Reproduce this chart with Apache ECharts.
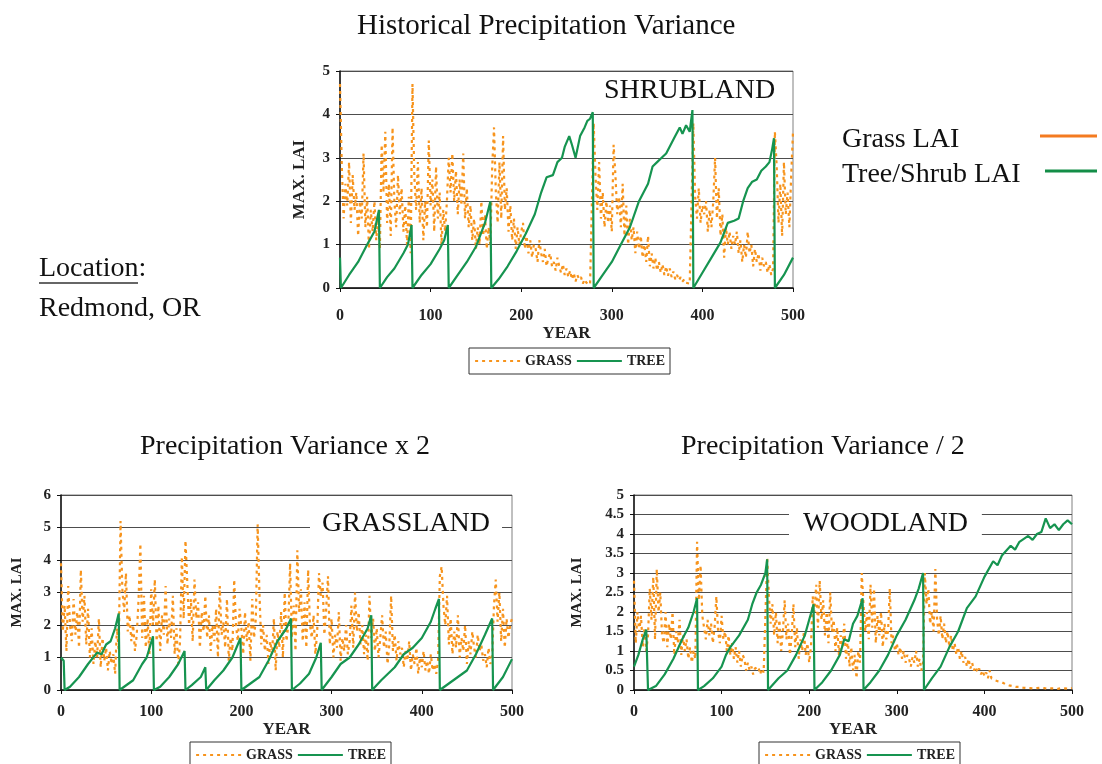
<!DOCTYPE html>
<html><head><meta charset="utf-8">
<script src="https://cdn.jsdelivr.net/npm/echarts@6/dist/echarts.min.js"></script>
<style>html,body{margin:0;padding:0;background:#fff}#c{width:1102px;height:764px}</style>
</head><body><div id="c"></div>
<script>
// ---------- DATA ----------
const GRASS_YEAR_STEP = 2; // grass values are every 2 years from year 0 to 500
const yearTicks = [0, 100, 200, 300, 400, 500];

// Historical precipitation variance (SHRUBLAND)
const shrubGrass = [
  4.7,2.8,1.6,2.4,1.9,2.9,1.5,2.6,1.8,2.2,
  1.2,2.0,1.6,3.1,1.4,2.1,0.9,1.8,1.3,2.0,
  1.1,1.6,0.9,3.3,2.2,3.6,1.5,2.4,1.2,3.7,
  2.0,1.4,2.6,1.7,2.3,1.3,1.9,1.0,2.1,0.8,
  4.7,2.6,1.8,2.9,1.5,2.3,1.1,2.0,1.4,3.4,
  1.9,2.5,1.3,2.8,1.6,2.2,1.0,1.8,1.3,2.0,
  3.0,2.2,3.1,2.0,2.7,1.7,2.5,1.9,3.1,1.6,
  2.3,1.4,1.9,1.1,1.6,0.9,1.4,1.0,2.0,1.2,
  1.7,0.9,1.4,1.0,2.8,3.7,2.2,1.5,2.9,1.6,
  3.5,1.8,2.3,1.3,1.9,1.1,1.6,0.9,1.4,1.0,
  1.3,1.5,0.9,1.2,0.8,1.1,0.7,1.0,0.9,0.6,
  1.1,0.8,0.6,0.9,0.5,0.7,0.8,0.5,0.6,0.4,
  0.7,0.5,0.35,0.55,0.3,0.45,0.25,0.4,0.2,0.35,
  0.15,0.3,0.2,0.25,0.1,0.2,0.12,0.15,0.08,0.1,
  3.8,2.6,1.8,2.9,1.6,2.2,1.4,2.0,1.5,1.9,
  1.3,3.3,2.6,1.7,2.1,1.4,2.4,1.2,1.9,1.0,
  1.6,1.1,1.4,0.8,1.3,0.9,1.2,0.7,1.0,0.6,
  1.2,0.5,0.8,0.45,0.7,0.4,0.6,0.35,0.55,0.3,
  0.5,0.28,0.45,0.25,0.38,0.2,0.3,0.18,0.25,0.15,
  0.2,0.12,0.15,0.1,0.12,3.8,2.1,1.6,2.3,1.5,
  1.9,1.7,2.0,1.3,1.8,1.4,2.0,3.0,1.6,2.3,
  1.2,1.7,0.7,1.4,1.0,1.3,0.9,1.2,1.0,1.3,
  0.8,1.1,0.6,1.0,0.7,1.3,0.8,1.0,0.5,0.9,
  0.6,0.8,0.4,0.7,0.5,0.6,0.35,0.55,0.3,0.45,
  3.6,2.8,1.5,2.4,1.2,2.9,1.7,2.2,1.4,2.6,
  3.6
];
const shrubTree = [
  [0,0.7],[1,0],[10,0.3],[20,0.6],[30,1.0],[38,1.3],[43,1.8],[44,0],
  [52,0.25],[60,0.45],[70,0.8],[75,1.0],[79,1.45],[80,0],
  [90,0.3],[100,0.55],[110,0.9],[115,1.1],[119,1.45],[120,0],
  [130,0.3],[140,0.6],[150,0.95],[160,1.5],[166,2.0],[167,0],
  [175,0.2],[185,0.5],[195,0.85],[205,1.25],[215,1.7],[222,2.2],[228,2.55],[235,2.6],[240,2.9],[245,3.0],
  [248,3.25],[253,3.5],[256,3.3],[260,3.0],[265,3.5],[270,3.7],[273,3.85],[276,3.9],[279,4.05],[280,0],
  [290,0.3],[300,0.6],[310,1.0],[320,1.4],[330,2.0],[340,2.4],[345,2.8],[350,2.9],[355,3.0],[360,3.1],
  [365,3.3],[370,3.5],[375,3.7],[378,3.55],[382,3.75],[386,3.6],[389,4.1],[390,0],
  [400,0.35],[410,0.7],[420,1.05],[428,1.5],[435,1.55],[440,1.6],[445,2.0],[450,2.3],[455,2.45],[460,2.5],
  [465,2.7],[470,2.8],[474,2.9],[477,3.2],[479,3.45],[480,0],
  [490,0.3],[500,0.7]
];

// Precipitation variance x 2 (GRASSLAND)
const grassGrass = [
  3.9,1.8,2.6,1.2,3.2,2.0,1.5,2.8,1.7,2.4,
  1.3,3.7,2.1,2.9,1.4,2.5,1.0,1.9,0.8,1.5,
  1.0,2.2,0.7,1.6,0.9,1.3,0.6,1.2,0.8,1.1,
  0.5,1.9,1.2,5.2,3.1,2.4,3.6,1.8,2.3,1.5,
  2.0,1.2,1.7,2.8,4.5,1.6,2.9,1.3,2.2,1.1,
  3.1,2.0,3.4,1.5,2.6,1.2,2.3,1.7,3.2,1.4,
  2.2,1.6,2.9,1.1,1.9,0.8,1.5,4.1,2.2,4.6,
  3.3,2.0,2.8,1.5,3.4,2.2,2.7,1.3,2.4,1.8,
  2.9,1.6,2.3,1.2,2.0,1.5,2.5,1.0,3.2,1.7,
  2.1,1.3,2.8,0.9,1.6,1.2,3.4,2.0,1.5,2.5,
  1.9,1.1,2.4,1.5,2.1,0.9,2.8,1.6,2.2,5.1,
  3.0,1.4,2.0,1.2,1.7,0.8,1.5,1.1,2.2,0.6,
  1.8,1.3,2.4,1.0,3.0,1.5,2.0,3.9,1.6,2.6,
  1.2,4.3,2.4,3.1,1.5,2.7,1.3,3.7,2.0,1.6,
  2.3,1.1,1.8,3.6,2.9,3.3,1.7,2.5,3.5,1.4,
  2.2,1.0,1.7,1.3,2.4,0.9,1.6,1.2,2.0,1.1,
  1.5,2.6,1.3,3.0,1.8,2.4,1.4,2.0,1.1,1.7,
  0.9,2.9,1.6,2.2,1.2,1.9,1.0,1.6,2.3,1.3,
  1.8,0.8,1.4,2.9,1.2,1.7,0.9,1.5,1.1,1.3,
  0.7,1.2,0.9,1.5,0.6,1.1,0.8,1.3,0.5,1.0,
  0.7,1.2,0.6,0.9,0.5,1.1,0.6,0.8,0.5,0.9,
  3.5,3.8,2.6,2.0,2.9,1.4,2.2,1.1,1.8,1.3,
  2.3,1.0,1.6,1.2,2.0,0.8,1.5,1.1,1.8,1.3,
  1.0,1.7,1.2,1.4,0.9,1.1,0.7,1.3,0.8,1.0,
  2.6,3.4,2.1,3.0,1.5,2.5,1.3,2.2,1.6,2.0,
  2.2
];
const grassTree = [
  [0,1.0],[3,0.9],[4,0],[10,0.1],[20,0.4],[30,0.8],[40,1.15],[45,1.1],[50,1.4],[55,1.5],[60,1.9],[64,2.35],[65,0],
  [70,0.1],[80,0.3],[90,0.8],[95,1.0],[102,1.65],[103,0],
  [110,0.1],[120,0.4],[130,0.8],[137,1.2],[138,0],
  [145,0.15],[155,0.4],[160,0.7],[161,0],
  [170,0.3],[180,0.6],[190,1.0],[199,1.6],[200,0],
  [210,0.2],[220,0.4],[230,0.9],[240,1.5],[250,1.9],[255,2.2],[256,0],
  [265,0.2],[275,0.5],[283,1.0],[288,1.45],[289,0],
  [300,0.4],[310,0.8],[320,1.0],[330,1.4],[340,1.9],[344,2.3],[345,0],
  [355,0.3],[370,0.7],[380,1.1],[390,1.3],[400,1.6],[410,2.1],[415,2.5],[419,2.8],[420,0],
  [430,0.2],[440,0.4],[450,0.6],[460,1.1],[470,1.7],[478,2.2],[479,0],
  [490,0.4],[500,0.95]
];

// Precipitation variance / 2 (WOODLAND)
const woodGrass = [
  2.8,1.2,2.0,1.5,1.9,1.1,1.6,1.0,1.4,2.6,
  1.8,2.9,1.3,3.1,2.0,2.5,1.4,1.2,2.0,1.1,
  1.7,1.3,2.0,0.9,1.5,1.2,1.8,0.9,1.4,1.0,
  1.3,0.8,1.1,0.7,1.0,0.8,3.8,2.3,3.2,1.9,
  1.6,1.3,1.8,1.4,1.7,1.2,1.6,2.4,1.5,1.2,
  1.9,1.3,1.5,1.0,1.4,0.9,1.2,0.8,1.1,0.7,
  1.0,0.6,0.9,0.8,0.5,0.7,0.5,0.6,0.4,0.55,
  0.5,0.6,0.4,0.55,0.45,0.5,3.4,2.4,1.7,2.2,
  1.4,2.0,1.2,1.8,1.0,1.5,2.3,1.3,1.7,0.9,
  1.4,2.2,1.1,1.6,0.8,1.3,1.0,1.5,0.9,1.2,
  0.7,1.1,2.4,2.0,2.7,1.6,2.8,1.8,2.3,1.4,
  2.0,1.2,2.5,1.5,1.8,1.0,1.6,0.9,1.4,1.1,
  1.7,0.8,1.3,0.6,1.1,0.5,0.9,0.3,1.0,0.7,
  3.0,2.2,1.5,2.0,1.3,2.7,1.6,2.6,1.2,1.9,
  1.4,2.0,1.1,1.7,1.3,1.5,2.6,1.2,1.4,1.0,
  1.2,0.9,1.1,0.8,1.0,0.7,0.9,0.8,0.6,0.85,
  0.7,1.0,0.6,0.8,0.5,0.7,3.0,2.2,2.6,1.7,
  2.0,1.5,3.1,1.8,1.4,1.9,1.3,1.7,1.2,1.5,
  1.1,1.4,1.0,1.2,0.9,1.1,0.8,1.0,0.7,0.85,
  0.6,0.8,0.55,0.7,0.5,0.6,0.45,0.55,0.4,0.5,
  0.35,0.45,0.3,0.5,0.3,0.35,0.25,0.3,0.22,0.25,
  0.2,0.22,0.15,0.2,0.12,0.15,0.1,0.12,0.08,0.1,
  0.08,0.1,0.06,0.08,0.05,0.07,0.05,0.06,0.04,0.06,
  0.05,0.04,0.06,0.03,0.05,0.04,0.03,0.05,0.04,0.03,
  0.04,0.05,0.03,0.04,0.05,0.03,0.04,0.06,0.03,0.04,
  0.05
];
const woodTree = [
  [0,0.6],[5,0.9],[10,1.3],[14,1.55],[16,0],
  [25,0.1],[35,0.4],[45,0.8],[55,1.3],[62,1.6],[68,2.0],[72,2.35],[73,0],
  [80,0.1],[90,0.3],[100,0.6],[105,0.9],[110,1.1],[120,1.4],[130,1.8],[135,2.2],[140,2.5],[145,2.7],[150,3.0],[152,3.35],[153,0],
  [165,0.3],[175,0.5],[185,0.9],[195,1.4],[200,1.8],[205,2.2],[206,0],
  [215,0.2],[225,0.5],[235,0.9],[240,1.3],[245,1.25],[250,1.7],[255,1.9],[261,2.35],[262,0],
  [270,0.2],[280,0.5],[290,0.9],[300,1.4],[310,1.8],[320,2.3],[325,2.6],[330,3.0],[331,0],
  [340,0.3],[350,0.6],[360,1.1],[370,1.5],[380,2.1],[390,2.4],[400,2.9],[410,3.3],[415,3.2],[420,3.45],
  [430,3.7],[435,3.6],[440,3.8],[450,3.95],[455,3.85],[460,4.0],[465,4.05],[470,4.4],[475,4.15],[480,4.25],
  [485,4.1],[490,4.25],[495,4.35],[500,4.25]
];

// ---------- CHART ----------
const SERIF = 'Liberation Serif';
const GRASS_COLOR = '#F7941D';
const TREE_COLOR = '#169450';
const toPairs = arr => arr.map((v, i) => [i * GRASS_YEAR_STEP, v]);

const panels = [
  {grid:{left:340, top:71, width:453, height:217}, ymax:5, yint:1, grass:shrubGrass, tree:shrubTree,
   yNameGap:32, xNameGap:36, xLabelMargin:20, nameSize:17},
  {grid:{left:61, top:495, width:451, height:195}, ymax:6, yint:1, grass:grassGrass, tree:grassTree,
   yNameGap:36, xNameGap:30, xLabelMargin:14, nameSize:15},
  {grid:{left:634, top:495, width:438, height:195}, ymax:5, yint:0.5, grass:woodGrass, tree:woodTree,
   yNameGap:49, xNameGap:31, xLabelMargin:14, nameSize:15}
];

const grids = [], xAxes = [], yAxes = [], series = [];
panels.forEach((p, i) => {
  grids.push(Object.assign({show:true, borderColor:'#808080', borderWidth:1, backgroundColor:'transparent'}, p.grid));
  xAxes.push({
    type:'value', gridIndex:i, min:yearTicks[0], max:yearTicks[yearTicks.length-1], interval:100,
    name:'YEAR', nameLocation:'middle', nameGap:p.xNameGap,
    nameTextStyle:{fontFamily:SERIF, fontWeight:'bold', fontSize:17, color:'#222'},
    axisLine:{show:true, onZero:false, lineStyle:{color:'#111', width:1.5}},
    axisTick:{show:true, length:4, lineStyle:{color:'#111'}},
    axisLabel:{fontFamily:SERIF, fontWeight:'bold', fontSize:16, color:'#222', margin:p.xLabelMargin},
    splitLine:{show:false}
  });
  yAxes.push({
    type:'value', gridIndex:i, min:0, max:p.ymax, interval:p.yint,
    name:'MAX. LAI', nameLocation:'middle', nameGap:p.yNameGap,
    nameTextStyle:{fontFamily:SERIF, fontWeight:'bold', fontSize:p.nameSize, color:'#222'},
    axisLine:{show:true, lineStyle:{color:'#111', width:1.5}},
    axisTick:{show:true, length:4, lineStyle:{color:'#111'}},
    axisLabel:{fontFamily:SERIF, fontWeight:'bold', fontSize:15, color:'#222', margin:10},
    splitLine:{show:true, lineStyle:{color:'#4d4d4d', width:1.2}}
  });
  series.push({
    name:'GRASS', type:'line', xAxisIndex:i, yAxisIndex:i, data:toPairs(p.grass),
    showSymbol:false, symbol:'none', color:GRASS_COLOR,
    lineStyle:{color:GRASS_COLOR, width:2.2, type:[3,4]}, z:2
  });
  series.push({
    name:'TREE', type:'line', xAxisIndex:i, yAxisIndex:i, data:p.tree,
    showSymbol:false, symbol:'none', color:TREE_COLOR,
    lineStyle:{color:TREE_COLOR, width:2.2}, z:3
  });
});

const legendBase = {
  data:['GRASS','TREE'], orient:'horizontal', itemWidth:45, itemHeight:14, itemGap:4,
  borderColor:'#333', borderWidth:1, padding:[6,5], backgroundColor:'#fff',
  itemStyle:{opacity:0, color:'rgba(0,0,0,0)', borderColor:'rgba(0,0,0,0)', borderWidth:0},
  lineStyle:{width:2.2},
  textStyle:{fontFamily:SERIF, fontWeight:'bold', fontSize:14, color:'#222'}, selectedMode:false
};
const titleStyle = {fontFamily:SERIF, fontWeight:'normal', fontSize:28, color:'#111'};
const panelLabelStyle = {fontFamily:SERIF, fontWeight:'normal', fontSize:28, color:'#111'};

const option = {
  animation:false,
  backgroundColor:'#fff',
  title:[
    {text:'Historical Precipitation Variance', left:357, top:12, padding:0, textStyle:Object.assign({}, titleStyle, {fontSize:29})},
    {text:'Precipitation Variance x 2', left:140, top:433, padding:0, textStyle:titleStyle},
    {text:'Precipitation Variance / 2', left:681, top:433, padding:0, textStyle:titleStyle},
    {text:'SHRUBLAND', left:598, top:75, padding:[2,6], backgroundColor:'#fff', textStyle:panelLabelStyle},
    {text:'GRASSLAND', left:310, top:506, padding:[4,12], backgroundColor:'#fff', textStyle:panelLabelStyle},
    {text:'WOODLAND', left:789, top:504, padding:[6,14], backgroundColor:'#fff', textStyle:panelLabelStyle}
  ],
  legend:[
    Object.assign({left:469, top:348}, legendBase),
    Object.assign({left:190, top:742}, legendBase),
    Object.assign({left:759, top:742}, legendBase)
  ],
  grid:grids, xAxis:xAxes, yAxis:yAxes, series:series,
  graphic:[
    {type:'text', left:842, top:126, style:{text:'Grass LAI', font:'28px "Liberation Serif"', fill:'#111'}},
    {type:'line', shape:{x1:1040, y1:136, x2:1097, y2:136}, style:{stroke:'#F47B20', lineWidth:3}},
    {type:'text', left:842, top:161, style:{text:'Tree/Shrub LAI', font:'28px "Liberation Serif"', fill:'#111'}},
    {type:'line', shape:{x1:1045, y1:171, x2:1097, y2:171}, style:{stroke:'#138D47', lineWidth:3}},
    {type:'text', left:39, top:255, style:{text:'Location:', font:'28px "Liberation Serif"', fill:'#111'}},
    {type:'line', shape:{x1:39, y1:283, x2:138, y2:283}, style:{stroke:'#333', lineWidth:1.5}},
    {type:'text', left:39, top:295, style:{text:'Redmond, OR', font:'28px "Liberation Serif"', fill:'#111'}}
  ]
};

const chart = echarts.init(document.getElementById('c'), null, {renderer:'canvas'});
chart.setOption(option);
</script>
</body></html>
